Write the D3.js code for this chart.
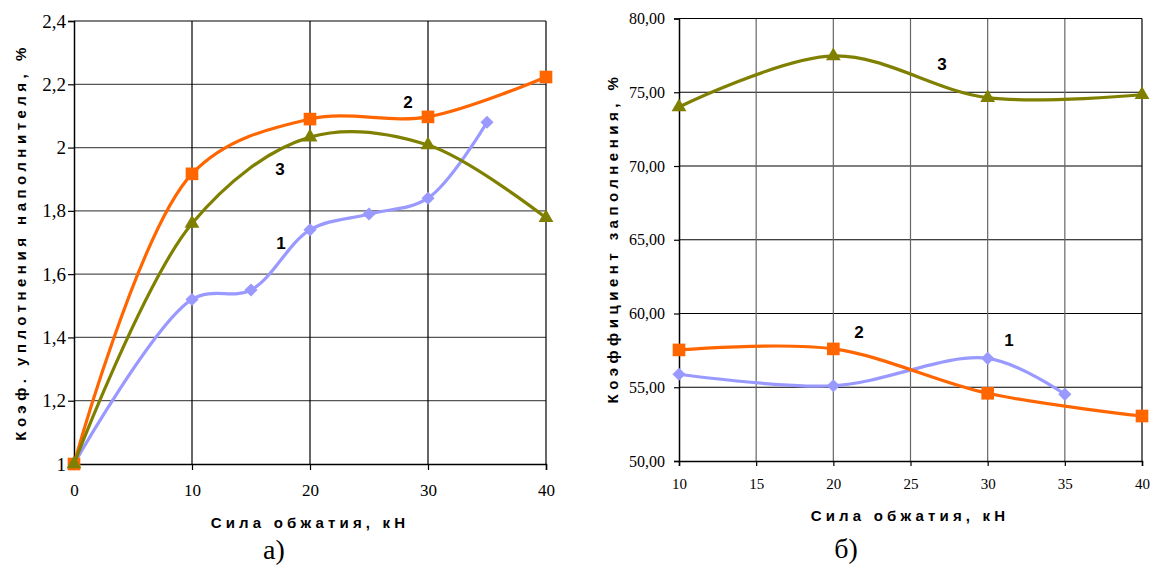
<!DOCTYPE html>
<html><head><meta charset="utf-8">
<script src="https://cdn.jsdelivr.net/npm/d3@7"></script>
<style>body{margin:0;background:#fff}svg{display:block}
.serif{font-family:"Liberation Serif","Times New Roman",serif}
.sans{font-family:"Liberation Sans",Arial,sans-serif}
</style>
</head><body>
<svg id="c" width="1151" height="566"></svg>
<script>
// ---- Data: chart а) ----
const aX1 = [0, 10, 15, 20, 25, 30, 35];
const aY1 = [1, 1.52, 1.55, 1.74, 1.79, 1.84, 2.08];
const aX2 = [0, 10, 20, 30, 40];
const aY2 = [1, 1.917, 2.09, 2.097, 2.223];
const aX3 = [0, 10, 20, 30, 40];
const aY3 = [1, 1.76, 2.033, 2.008, 1.778];
const aXTicks = [0, 10, 20, 30, 40];
const aYTicks = [1, 1.2, 1.4, 1.6, 1.8, 2, 2.2, 2.4];
const aYLabels = ["1", "1,2", "1,4", "1,6", "1,8", "2", "2,2", "2,4"];
// ---- Data: chart б) ----
const bX1 = [10, 20, 30, 35];
const bY1 = [55.88, 55.1, 56.96, 54.52];
const bX2 = [10, 20, 30, 40];
const bY2 = [57.53, 57.6, 54.59, 53.05];
const bX3 = [10, 20, 30, 40];
const bY3 = [74.0, 77.46, 74.63, 74.83];
const bXTicks = [10, 15, 20, 25, 30, 35, 40];
const bYTicks = [50, 55, 60, 65, 70, 75, 80];
const bYLabels = ["50,00", "55,00", "60,00", "65,00", "70,00", "75,00", "80,00"];

const C1 = "#9999FF", C2 = "#FF6600", C3 = "#808000";
const svg = d3.select("#c");

function panel(o) {
  const g = svg.append("g");
  const x = d3.scaleLinear().domain(o.xd).range(o.xr);
  const y = d3.scaleLinear().domain(o.yd).range(o.yr);
  g.append("g").selectAll("line").data(o.yTicks.slice(1, -1)).join("line")
    .attr("x1", o.xr[0]).attr("x2", o.xr[1]).attr("y1", d => y(d)).attr("y2", d => y(d))
    .attr("stroke", o.hGrid).attr("stroke-width", 1.2);
  g.append("g").selectAll("line").data(o.xTicks.slice(1, -1)).join("line")
    .attr("y1", o.yr[0]).attr("y2", o.yr[1]).attr("x1", d => x(d)).attr("x2", d => x(d))
    .attr("stroke", o.vGrid).attr("stroke-width", 1.2);
  g.append("line").attr("x1", o.xr[0]).attr("x2", o.xr[1]).attr("y1", o.yr[1]).attr("y2", o.yr[1]).attr("stroke", "#000").attr("stroke-width", 1.2);
  g.append("line").attr("x1", o.xr[1]).attr("x2", o.xr[1]).attr("y1", o.yr[0]).attr("y2", o.yr[1]).attr("stroke", "#000").attr("stroke-width", 1.2);
  const ya = g.append("g").attr("transform", `translate(${o.xr[0]},0)`)
    .call(d3.axisLeft(y).tickValues(o.yTicks).tickFormat((d, i) => o.yLabels[i]).tickSize(o.yTickSize).tickPadding(o.yPad));
  const xa = g.append("g").attr("transform", `translate(0,${o.yr[0]})`)
    .call(d3.axisBottom(x).tickValues(o.xTicks).tickSize(o.xTickSize).tickPadding(o.xPad));
  [ya, xa].forEach(a => {
    a.attr("font-family", null);
    a.select(".domain").attr("stroke", "#000").attr("stroke-width", 1.5);
    a.selectAll(".tick line").attr("stroke", "#000").attr("stroke-width", 1.2);
    a.selectAll("text").attr("class", "serif").attr("fill", "#000");
  });
  ya.attr("font-size", o.yFont);
  xa.attr("font-size", o.xFont);
  const curve = d3.curveCatmullRom.alpha(0.5);
  o.series.forEach(s => {
    const pts = s.xs.map((v, i) => [x(v), y(s.ys[i])]);
    g.append("path").attr("d", d3.line().curve(curve)(pts))
      .attr("fill", "none").attr("stroke", s.color).attr("stroke-width", 3.2);
    g.append("g").selectAll("path").data(pts).join("path")
      .attr("transform", p => `translate(${p[0]},${p[1]})`)
      .attr("d", d3.symbol().type(s.sym).size(s.size)())
      .attr("fill", s.color);
  });
  o.labels.forEach(l => {
    g.append("text").attr("x", l[1]).attr("y", l[2]).text(l[0]).attr("class", "sans")
      .attr("font-weight", "bold").attr("font-size", 17).attr("text-anchor", "middle").attr("dominant-baseline", "central");
  });
  g.append("text").attr("transform", `translate(${o.yt[0]},${o.yt[1]}) rotate(-90)`)
    .text(o.yTitle).attr("text-anchor", "middle").attr("class", "sans")
    .attr("font-weight", "bold").attr("font-size", 15).attr("letter-spacing", o.yLs).attr("dominant-baseline", "central");
  g.append("text").attr("x", o.xt[0]).attr("y", o.xt[1])
    .text(o.xTitle).attr("text-anchor", "middle").attr("class", "sans")
    .attr("font-weight", "bold").attr("font-size", 15).attr("letter-spacing", 4.2).attr("dominant-baseline", "central");
  g.append("text").attr("x", o.cap[0]).attr("y", o.cap[1]).text(o.capText)
    .attr("text-anchor", "middle").attr("class", "serif")
    .attr("font-size", 28).attr("dominant-baseline", "central");
}

panel({
  xd: [0, 40], xr: [74, 546], yd: [1, 2.4], yr: [464, 21],
  xTicks: aXTicks, yTicks: aYTicks, yLabels: aYLabels,
  hGrid: "#555", vGrid: "#000",
  yTickSize: 6, yPad: 2, xTickSize: 6, xPad: 14, yFont: 19, xFont: 17,
  series: [
    { xs: aX1, ys: aY1, color: C1, sym: d3.symbolDiamond2, size: 110 },
    { xs: aX2, ys: aY2, color: C2, sym: d3.symbolSquare, size: 160 },
    { xs: aX3, ys: aY3, color: C3, sym: d3.symbolTriangle, size: 95 }
  ],
  labels: [["1", 281, 243], ["2", 408, 102], ["3", 280, 169]],
  yTitle: "Коэф. уплотнения наполнителя, %", yt: [20, 242], yLs: 4.5,
  xTitle: "Сила обжатия, кН", xt: [310, 522],
  cap: [274, 549], capText: "а)"
});

panel({
  xd: [10, 40], xr: [679, 1142], yd: [50, 80], yr: [461, 18.5],
  xTicks: bXTicks, yTicks: bYTicks, yLabels: bYLabels,
  hGrid: "#000", vGrid: "#666",
  yTickSize: 5, yPad: 9, xTickSize: 5, xPad: 12, yFont: 16, xFont: 15,
  series: [
    { xs: bX1, ys: bY1, color: C1, sym: d3.symbolDiamond2, size: 110 },
    { xs: bX2, ys: bY2, color: C2, sym: d3.symbolSquare, size: 160 },
    { xs: bX3, ys: bY3, color: C3, sym: d3.symbolTriangle, size: 95 }
  ],
  labels: [["1", 1009, 340], ["2", 859, 332], ["3", 942, 64]],
  yTitle: "Коэффициент заполнения, %", yt: [612, 238], yLs: 4.5,
  xTitle: "Сила обжатия, кН", xt: [910, 515],
  cap: [846, 548], capText: "б)"
});
</script>
</body></html>
